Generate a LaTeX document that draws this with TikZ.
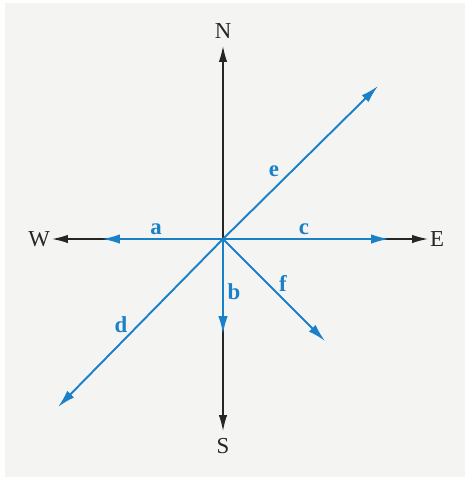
\documentclass[tikz,border=0pt]{standalone}
\usepackage{fontspec}
\setmainfont{Liberation Serif}
\usetikzlibrary{arrows.meta,positioning}
\definecolor{vecblue}{RGB}{26,128,200}
\definecolor{panel}{RGB}{244,244,242}

\begin{document}
\begin{tikzpicture}[x=0.02cm,y=-0.02cm,
  axis/.style={draw=black!85,line width=0.8pt,-{Latex[length=3.2mm,width=1.7mm]}},
  vec/.style={draw=vecblue,line width=1.1pt,-{Latex[length=3.6mm,width=1.9mm]}},
  dir/.style={font=\fontsize{13}{15}\selectfont,text=black!85,inner sep=1pt},
  lab/.style={font=\fontsize{13}{15}\selectfont\bfseries,text=vecblue,inner sep=1pt}]
\useasboundingbox (0,0) rectangle (465,477);
\fill[panel] (5,3) rectangle (465,477);
\coordinate (o) at (223,239);
% compass axes
\coordinate (n) at (223,46);
\coordinate (s) at (223,431);
\coordinate (w) at (52,239);
\coordinate (e) at (428,239);
\node[dir,above=3pt of n] (N) {N};
\node[dir,below=3pt of s] (S) {S};
\node[dir,left=0pt of w] (W) {W};
\node[dir,right=0pt of e] (E) {E};
\draw[axis] (o) -- (n);
\draw[axis] (o) -- (s);
\draw[axis] (o) -- (w);
\draw[axis] (o) -- (e);
% displacement vectors
\coordinate (ta) at (102,239);
\coordinate (tb) at (223,334);
\coordinate (tc) at (389,239);
\coordinate (td) at (58,407);
\coordinate (te) at (378,86);
\coordinate (tf) at (325,341);
\draw[vec] (o) -- (ta);
\draw[vec] (o) -- (tb);
\draw[vec] (o) -- (tc);
\draw[vec] (o) -- (td);
\draw[vec] (o) -- (te);
\draw[vec] (o) -- (tf);
\node[lab] (a) at (156,229) {a};
\node[lab] (b) at (234,292) {b};
\node[lab] (c) at (304,229) {c};
\node[lab] (d) at (121,325) {d};
\node[lab] (e) at (274,171) {e};
\node[lab] (f) at (283,283) {f};
\end{tikzpicture}
\end{document}
